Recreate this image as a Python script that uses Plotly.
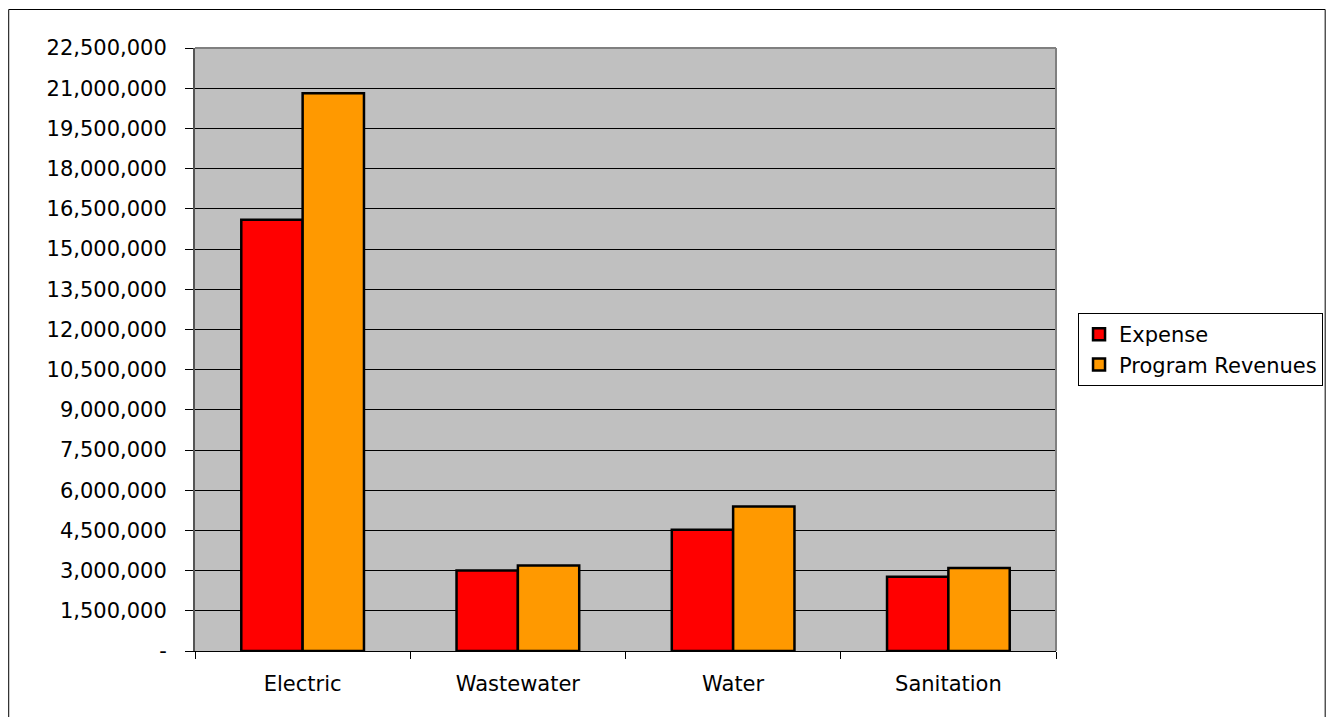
import plotly.graph_objects as go

# Utility funds: expense vs. program revenues
categories = ["Electric", "Wastewater", "Water", "Sanitation"]
expense = [16090000, 3000000, 4520000, 2770000]
program_revenues = [20810000, 3190000, 5390000, 3100000]

tick_values = [0, 1500000, 3000000, 4500000, 6000000, 7500000, 9000000,
               10500000, 12000000, 13500000, 15000000, 16500000, 18000000,
               19500000, 21000000, 22500000]
tick_labels = ["-"] + [f"{v:,}" for v in tick_values[1:]]

FONT = "DejaVu Sans"
FS = 21
W, H = 1334, 717
ML, MR, MT, MB = 195, 277, 48, 66

fig = go.Figure()
fig.add_trace(go.Bar(
    name="Expense", x=categories, y=expense,
    marker=dict(color="#FF0000", line=dict(color="#000000", width=2.5)),
))
fig.add_trace(go.Bar(
    name="Program Revenues", x=categories, y=program_revenues,
    marker=dict(color="#FF9900", line=dict(color="#000000", width=2.5)),
))

fig.update_layout(
    width=W, height=H,
    margin=dict(l=ML, r=MR, t=MT, b=MB),
    paper_bgcolor="#FFFFFF",
    plot_bgcolor="#C0C0C0",
    barmode="group",
    bargap=0.43,
    bargroupgap=0,
    font=dict(family=FONT, size=FS, color="#000000"),
    showlegend=True,
    legend=dict(
        x=1.0244, y=0.5, xanchor="left", yanchor="middle",
        bgcolor="#FFFFFF", bordercolor="#000000", borderwidth=1,
        font=dict(family=FONT, size=FS, color="#000000"),
        itemwidth=30,
    ),
    xaxis=dict(
        type="category",
        showgrid=False,
        showline=True, linecolor="#000000", linewidth=1,
        ticks="outside", ticklen=7, tickcolor="#000000",
        tickson="boundaries",
        ticklabelstandoff=14,
        zeroline=False,
    ),
    yaxis=dict(
        range=[0, 22500000],
        tickvals=tick_values, ticktext=tick_labels,
        showgrid=True, gridcolor="#000000", gridwidth=1,
        showline=True, linecolor="#555555", linewidth=2,
        ticks="outside", ticklen=8, tickcolor="#000000",
        ticklabelstandoff=14,
        zeroline=False,
    ),
)

# Gray frame on the top and right of the plot area
fig.add_shape(type="line", xref="paper", yref="paper", x0=0, x1=1, y0=1, y1=1,
              line=dict(color="#808080", width=2), layer="above")
fig.add_shape(type="line", xref="paper", yref="paper", x0=1, x1=1, y0=0, y1=1,
              line=dict(color="#808080", width=2), layer="above")

# Outer chart border
px_x = lambda p: (p - ML) / (W - ML - MR)
px_y = lambda p: (H - MB - p) / (H - MT - MB)
fig.add_shape(type="rect", xref="paper", yref="paper",
              x0=px_x(8.5), x1=px_x(1326.5), y0=px_y(730), y1=px_y(9.5),
              line=dict(color="#000000", width=1), fillcolor="rgba(0,0,0,0)",
              layer="below")

fig.write_html("out.html")
